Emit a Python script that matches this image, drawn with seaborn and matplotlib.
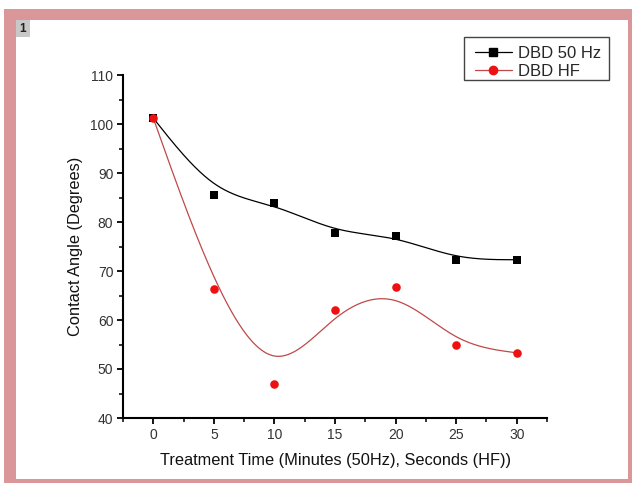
import numpy as np
import pandas as pd
import matplotlib
matplotlib.use("Agg")
import matplotlib.pyplot as plt
from matplotlib.lines import Line2D
from matplotlib.patches import Rectangle
import seaborn as sns

# ---- data ----
times = [0, 5, 10, 15, 20, 25, 30]
angle_50hz = [101.2, 85.6, 83.8, 77.8, 77.2, 72.3, 72.3]
angle_hf = [101.2, 66.3, 46.9, 62.0, 66.7, 54.9, 53.3]
series_names = ["DBD 50 Hz", "DBD HF"]
x_ticks = [0, 5, 10, 15, 20, 25, 30]
y_ticks = [40, 50, 60, 70, 80, 90, 100, 110]
x_label = "Treatment Time (Minutes (50Hz), Seconds (HF))"
y_label = "Contact Angle (Degrees)"


def bspline(px, py, per_seg=60):
    """Uniform cubic B-spline with the data points as control points
    (reflected phantom end points so the curve starts/ends on the data)."""
    px = np.asarray(px, float)
    py = np.asarray(py, float)
    px = np.concatenate([[2 * px[0] - px[1]], px, [2 * px[-1] - px[-2]]])
    py = np.concatenate([[2 * py[0] - py[1]], py, [2 * py[-1] - py[-2]]])
    u = np.linspace(0, 1, per_seg, endpoint=False)
    b0 = (1 - u) ** 3 / 6
    b1 = (3 * u ** 3 - 6 * u ** 2 + 4) / 6
    b2 = (-3 * u ** 3 + 3 * u ** 2 + 3 * u + 1) / 6
    b3 = u ** 3 / 6
    xs, ys = [], []
    for i in range(1, len(px) - 2):
        xs.append(b0 * px[i - 1] + b1 * px[i] + b2 * px[i + 1] + b3 * px[i + 2])
        ys.append(b0 * py[i - 1] + b1 * py[i] + b2 * py[i + 1] + b3 * py[i + 2])
    i = len(px) - 3
    xs.append([(px[i] + 4 * px[i + 1] + px[i + 2]) / 6])
    ys.append([(py[i] + 4 * py[i + 1] + py[i + 2]) / 6])
    return np.concatenate(xs), np.concatenate(ys)


sns.set_theme(style="ticks")
plt.rcParams["font.family"] = ["Liberation Sans", "DejaVu Sans"]

fig = plt.figure(figsize=(6.32, 4.83), dpi=100)
fig.patch.set_facecolor("white")

# pink frame
pink = "#d9979a"
W, H = 632, 483
def fr(x0, y0, x1, y1, fc, ec="none", lw=0):
    fig.patches.append(Rectangle((x0 / W, 1 - y1 / H), (x1 - x0) / W, (y1 - y0) / H,
                                 transform=fig.transFigure, facecolor=fc,
                                 edgecolor=ec, linewidth=lw, zorder=0))
fr(4, 9, 632, 20, pink)
fr(4, 9, 16, 479, pink)
fr(628, 9, 632, 483, pink)
fr(4, 479, 632, 483, pink)
fr(16, 20, 30, 37, "#c8c8c8")
fig.text(23 / W, 1 - 28.5 / H, "1", ha="center", va="center", fontsize=8.5,
         fontweight="bold", color="#222222")

ax = fig.add_axes([123 / W, 1 - 418 / H, (547 - 123) / W, (418 - 75) / H])
ax.set_facecolor("white")

black = "#000000"
red_line = "#c04848"
red_marker = "#ee1111"

bx, by = bspline(times, angle_50hz)
rx, ry = bspline(times, angle_hf)
curve_df = pd.DataFrame({"x": np.concatenate([bx, rx]),
                         "y": np.concatenate([by, ry]),
                         "s": [series_names[0]] * len(bx) + [series_names[1]] * len(rx)})
sns.lineplot(data=curve_df[curve_df.s == series_names[0]], x="x", y="y", sort=False,
             estimator=None, color=black, lw=0.9, ax=ax, legend=False)
sns.lineplot(data=curve_df[curve_df.s == series_names[1]], x="x", y="y", sort=False,
             estimator=None, color=red_line, lw=0.9, ax=ax, legend=False)

pts = pd.DataFrame({"t": times, "a50": angle_50hz, "ahf": angle_hf})
sns.scatterplot(data=pts, x="t", y="a50", marker="s", s=32, color=black,
                edgecolor=black, linewidth=0, ax=ax, legend=False, zorder=3)
sns.scatterplot(data=pts, x="t", y="ahf", marker="o", s=38, color=red_marker,
                edgecolor=red_marker, linewidth=0, ax=ax, legend=False, zorder=4)

ax.set_xlim(-2.5, 32.5)
ax.set_ylim(40, 110)
ax.set_xticks(x_ticks)
ax.set_yticks(y_ticks)
ax.set_xticks(np.arange(-2.5, 33, 5), minor=True)
ax.set_yticks(np.arange(45, 110, 10), minor=True)
ax.tick_params(axis="both", which="major", direction="out", length=4.5, width=1.3,
               labelsize=10, labelcolor="#333333", pad=2.5, color="black")
ax.tick_params(axis="both", which="minor", direction="out", length=2.8, width=1.1,
               color="black")
for s in ["top", "right"]:
    ax.spines[s].set_visible(False)
for s in ["left", "bottom"]:
    ax.spines[s].set_linewidth(1.5)
    ax.spines[s].set_color("black")

ax.set_xlabel(x_label, fontsize=11.8, color="#111111", labelpad=8)
ax.set_ylabel(y_label, fontsize=11.8, color="#111111", labelpad=5.5)

# legend frame drawn separately so the inner padding matches the reference
fr(464, 37, 609, 80, "white", "#444444", 1.0)
handles = [Line2D([], [], color=black, lw=0.9, marker="s", markersize=5.5,
                  markerfacecolor=black, markeredgecolor=black),
           Line2D([], [], color=red_line, lw=0.9, marker="o", markersize=6,
                  markerfacecolor=red_marker, markeredgecolor=red_marker)]
leg = fig.legend(handles, series_names, loc="upper left",
                 bbox_to_anchor=(475 / W, 1 - 46 / H), fontsize=12,
                 frameon=False, handlelength=2.2, handletextpad=0.36,
                 borderpad=0, labelspacing=0.2, borderaxespad=0, numpoints=1)

fig.savefig("out.png", dpi=100, facecolor="white")
